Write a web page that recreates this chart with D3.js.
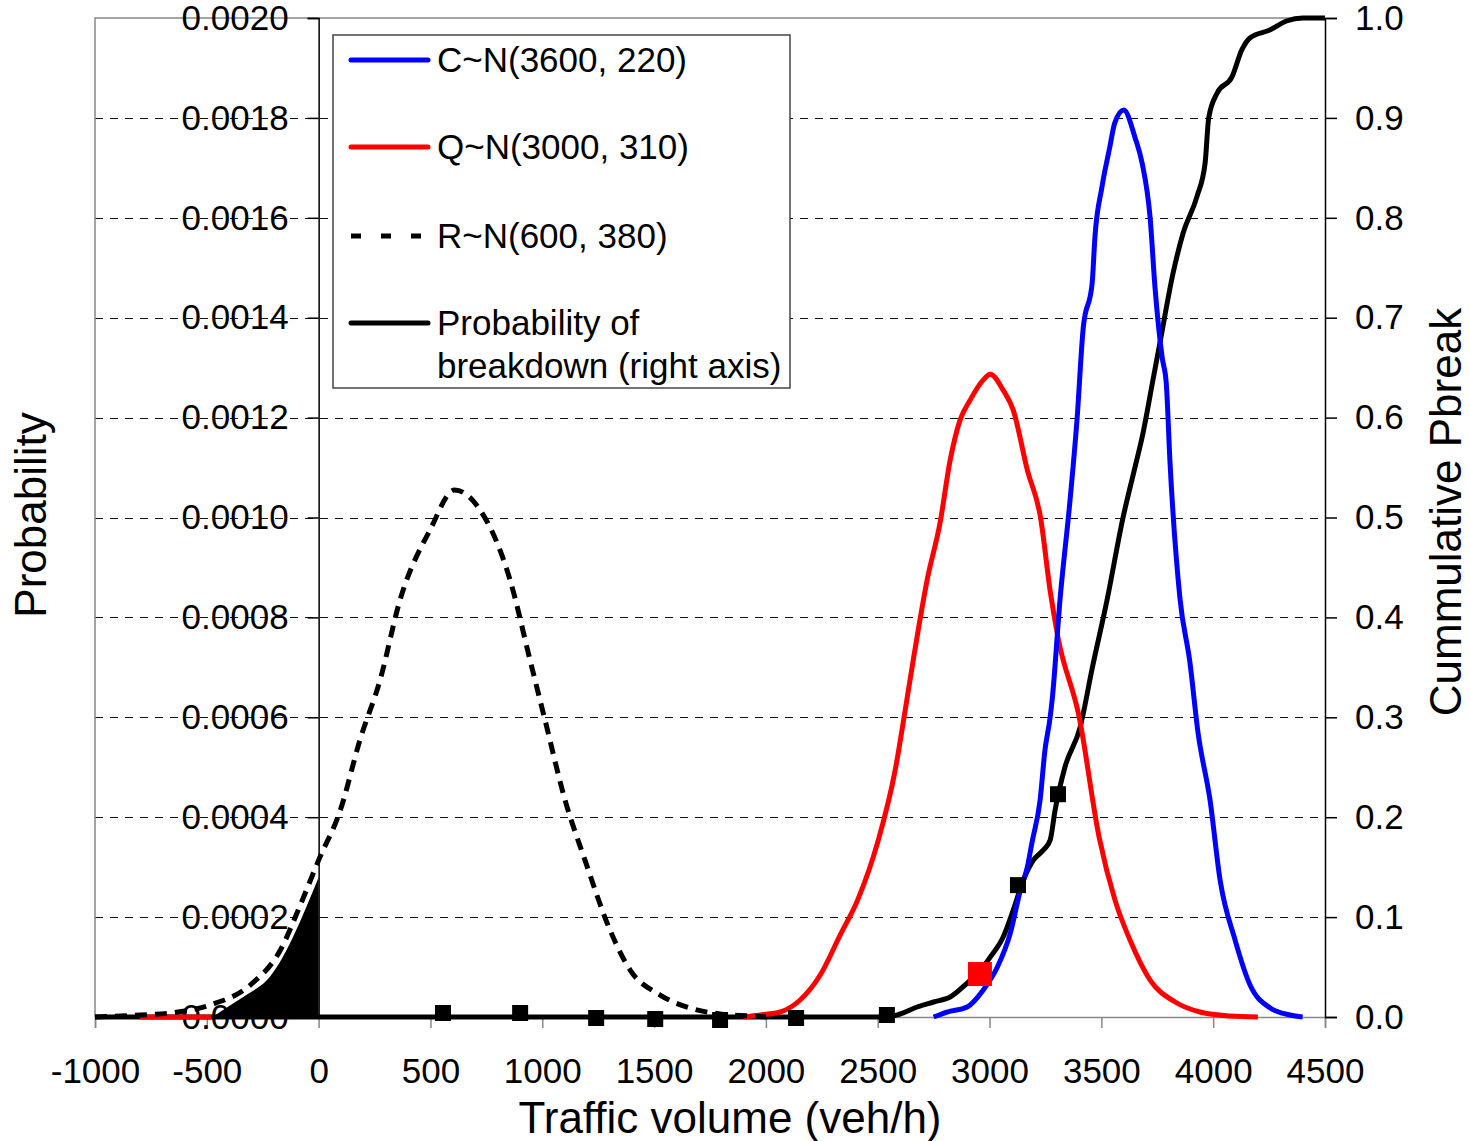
<!DOCTYPE html>
<html>
<head>
<meta charset="utf-8">
<script src="https://cdn.jsdelivr.net/npm/d3@7"></script>
<style>
  html, body { margin: 0; padding: 0; background: #fff; }
  svg { display: block; font-family: "Liberation Sans", Arial, sans-serif; }
</style>
</head>
<body>
<div id="chart"></div>
<script>
// --- data ---
// C ~ N(3600, 220)  (left axis)
const cX = [2750, 2810, 2900, 2972, 3035, 3093, 3138, 3169, 3190, 3226, 3248, 3271, 3280, 3315, 3360, 3391, 3419, 3459, 3471, 3502, 3537, 3560, 3600, 3651, 3682, 3718, 3740, 3772, 3790, 3807, 3851, 3896, 3932, 3986, 4031, 4098, 4165, 4255, 4344, 4400];
const cY = [0, 0.00001, 0.00002, 0.000054, 0.0001, 0.000168, 0.000254, 0.0003, 0.00035, 0.000434, 0.000535, 0.0006, 0.000635, 0.000835, 0.001035, 0.001195, 0.00138, 0.00147, 0.00156, 0.00166, 0.00174, 0.00179, 0.001816, 0.00176, 0.00171, 0.0016, 0.00146, 0.00132, 0.00127, 0.00111, 0.00084, 0.00071, 0.00057, 0.000434, 0.000274, 0.000154, 0.000064, 0.000018, 0.000004, 0];

// Q ~ N(3000, 310)  (left axis)
const qX = [1900, 1974, 2064, 2153, 2243, 2332, 2410, 2500, 2578, 2622, 2659, 2721, 2779, 2824, 2868, 2913, 2971, 3003, 3061, 3106, 3169, 3228, 3272, 3306, 3401, 3490, 3561, 3628, 3718, 3830, 3941, 4075, 4200];
const qY = [0, 0.000004, 0.00001, 0.000034, 0.000084, 0.000164, 0.000234, 0.00035, 0.000494, 0.000612, 0.000715, 0.000875, 0.00099, 0.001115, 0.001195, 0.001235, 0.001275, 0.001287, 0.001255, 0.001215, 0.001095, 0.001, 0.00085, 0.00076, 0.0006, 0.00036, 0.000234, 0.000154, 0.000074, 0.00003, 0.00001, 0.000002, 0];
// short red stretch visible at the far left
const qTailX = [-800, -480];
const qTailY = [0, 0];

// R ~ N(600, 380)  (left axis, dashed)
const rX = [-1000, -798, -664, -485, -306, -171, -82, 0, 97, 185, 275, 364, 498, 608, 722, 856, 945, 1012, 1102, 1191, 1303, 1393, 1527, 1661, 1795, 1930, 2000];
const rY = [0, 0.000004, 0.000008, 0.000024, 0.000064, 0.000134, 0.000224, 0.000314, 0.000414, 0.000555, 0.000675, 0.000835, 0.000975, 0.001055, 0.001015, 0.000875, 0.000715, 0.000595, 0.000434, 0.000314, 0.000174, 0.000094, 0.000044, 0.000018, 0.000006, 0.000002, 0];

// shaded part of R below zero (left axis)
const fillX = [-475, -400, -320, -231, 0];
const fillY = [0, 0.000022, 0.000045, 0.000074, 0.00028];

// probability of breakdown (right axis)
const pX = [-1000, 2540, 2600, 2676, 2750, 2824, 2900, 2960, 3003, 3061, 3106, 3151, 3196, 3240, 3271, 3293, 3337, 3405, 3460, 3525, 3597, 3650, 3682, 3731, 3762, 3821, 3866, 3927, 3964, 3980, 4018, 4084, 4128, 4164, 4253, 4328, 4400, 4500];
const pY = [0, 0, 0.003, 0.01, 0.015, 0.02, 0.034, 0.047, 0.06, 0.08, 0.107, 0.137, 0.157, 0.167, 0.177, 0.207, 0.25, 0.29, 0.35, 0.417, 0.5, 0.55, 0.58, 0.638, 0.675, 0.745, 0.785, 0.821, 0.855, 0.9, 0.925, 0.941, 0.968, 0.98, 0.988, 0.997, 1.0, 1.0];

// observed points (right axis)
const markX = [556, 901, 1241, 1505, 1795, 2135, 2541, 3127, 3306];
const markY = [0.004, 0.004, -0.001, -0.002, -0.003, -0.001, 0.002, 0.132, 0.223];
const redMarkX = [2957];
const redMarkY = [0.043];

// ticks
const xTicks = [-1000, -500, 0, 500, 1000, 1500, 2000, 2500, 3000, 3500, 4000, 4500];
const yLeftTicks = [0, 0.0002, 0.0004, 0.0006, 0.0008, 0.001, 0.0012, 0.0014, 0.0016, 0.0018, 0.002];
const yRightTicks = [0, 0.1, 0.2, 0.3, 0.4, 0.5, 0.6, 0.7, 0.8, 0.9, 1.0];

const legendLabels = [["C~N(3600, 220)"], ["Q~N(3000, 310)"], ["R~N(600, 380)"], ["Probability of", "breakdown (right axis)"]];
const legendColors = ["#0000ff", "#ff0000", "#000000", "#000000"];
const legendDashed = [false, false, true, false];

// --- chart ---
const W = 1470, H = 1141;
const plotL = 95, plotR = 1325, plotT = 18, plotB = 1017;
const LW = 5;

const svg = d3.select("#chart").append("svg")
    .attr("width", W).attr("height", H);

const x = d3.scaleLinear().domain([-1000, 4500]).range([plotL, plotR]);
const yL = d3.scaleLinear().domain([0, 0.002]).range([plotB, plotT]);
const yR = d3.scaleLinear().domain([0, 1]).range([plotB, plotT]);

const zip = (xs, ys) => xs.map((v, i) => [v, ys[i]]);

// gridlines
svg.append("g").selectAll("line")
    .data(yLeftTicks.filter(d => d > 0 && d < 0.002))
    .enter().append("line")
    .attr("x1", plotL).attr("x2", plotR)
    .attr("y1", d => Math.round(yL(d)) + 0.5).attr("y2", d => Math.round(yL(d)) + 0.5)
    .attr("stroke", "#111").attr("stroke-width", 1.2)
    .attr("stroke-dasharray", "8,7");

// plot frame (top / left)
svg.append("path")
    .attr("d", `M${plotL},${plotB}V${plotT}H${plotR}`)
    .attr("fill", "none").attr("stroke", "#888").attr("stroke-width", 1.5);

// x axis
const xAxis = svg.append("g")
    .attr("transform", `translate(0,${plotB})`)
    .call(d3.axisBottom(x).tickValues(xTicks).tickFormat(d => String(d)).tickSize(11).tickPadding(30));
xAxis.select(".domain").attr("stroke", "#888").attr("stroke-width", 1.5);
xAxis.selectAll(".tick line").attr("stroke", "#888").attr("stroke-width", 1.5);
xAxis.selectAll("text").attr("font-size", 35).attr("fill", "#000")
    .attr("font-family", "Liberation Sans, Arial, sans-serif");

// left axis crosses at x = 0
const yAxisL = svg.append("g")
    .attr("transform", `translate(${x(0)},0)`)
    .call(d3.axisLeft(yL).tickValues(yLeftTicks).tickFormat(d3.format(".4f")).tickSize(11).tickPadding(19));
yAxisL.select(".domain").attr("stroke", "#000").attr("stroke-width", 1.5);
yAxisL.selectAll(".tick line").attr("stroke", "#000").attr("stroke-width", 1.5);
yAxisL.selectAll("text").attr("font-size", 35).attr("fill", "#000")
    .attr("font-family", "Liberation Sans, Arial, sans-serif");

// right axis
const yAxisR = svg.append("g")
    .attr("transform", `translate(${plotR},0)`)
    .call(d3.axisRight(yR).tickValues(yRightTicks).tickFormat(d3.format(".1f")).tickSize(12).tickPadding(18));
yAxisR.select(".domain").attr("stroke", "#000").attr("stroke-width", 1.5);
yAxisR.selectAll(".tick line").attr("stroke", "#000").attr("stroke-width", 1.5);
yAxisR.selectAll("text").attr("font-size", 35).attr("fill", "#000")
    .attr("font-family", "Liberation Sans, Arial, sans-serif");

// shaded area
svg.append("path")
    .datum(zip(fillX, fillY))
    .attr("d", d3.area().x(d => x(d[0])).y0(yL(0)).y1(d => yL(d[1])).curve(d3.curveMonotoneX))
    .attr("fill", "#000");

const lineL = d3.line().x(d => x(d[0])).y(d => yL(d[1])).curve(d3.curveMonotoneX);
const lineR = d3.line().x(d => x(d[0])).y(d => yR(d[1])).curve(d3.curveMonotoneX);

// cumulative probability of breakdown
svg.append("path").datum(zip(pX, pY))
    .attr("d", lineR).attr("fill", "none")
    .attr("stroke", "#000").attr("stroke-width", LW).attr("stroke-linejoin", "round");

// Q
svg.append("path").datum(zip(qTailX, qTailY))
    .attr("d", lineL).attr("fill", "none")
    .attr("stroke", "#ff0000").attr("stroke-width", LW);
svg.append("path").datum(zip(qX, qY))
    .attr("d", lineL).attr("fill", "none")
    .attr("stroke", "#ff0000").attr("stroke-width", LW).attr("stroke-linejoin", "round");

// C
svg.append("path").datum(zip(cX, cY))
    .attr("d", lineL).attr("fill", "none")
    .attr("stroke", "#0000ff").attr("stroke-width", LW).attr("stroke-linejoin", "round");

// R (dashed)
svg.append("path").datum(zip(rX, rY))
    .attr("d", lineL).attr("fill", "none")
    .attr("stroke", "#000").attr("stroke-width", LW)
    .attr("stroke-dasharray", "12,8");

// markers
svg.append("g").selectAll("rect")
    .data(zip(markX, markY))
    .enter().append("rect")
    .attr("x", d => x(d[0]) - 8).attr("y", d => yR(d[1]) - 8)
    .attr("width", 16).attr("height", 16)
    .attr("fill", "#000");
svg.append("g").selectAll("rect")
    .data(zip(redMarkX, redMarkY))
    .enter().append("rect")
    .attr("x", d => x(d[0]) - 12).attr("y", d => yR(d[1]) - 12)
    .attr("width", 24).attr("height", 24)
    .attr("fill", "#ff0000");

// axis titles
svg.append("text")
    .attr("x", 730).attr("y", 1133)
    .attr("text-anchor", "middle").attr("font-size", 44)
    .text("Traffic volume (veh/h)");
svg.append("text")
    .attr("transform", "translate(46,515) rotate(-90)")
    .attr("text-anchor", "middle").attr("font-size", 44)
    .text("Probability");
svg.append("text")
    .attr("transform", "translate(1461,512) rotate(-90)")
    .attr("text-anchor", "middle").attr("font-size", 44)
    .text("Cummulative Pbreak");

// legend
const legend = svg.append("g");
legend.append("rect")
    .attr("x", 333).attr("y", 35).attr("width", 457).attr("height", 353)
    .attr("fill", "#fff").attr("stroke", "#444").attr("stroke-width", 1.5);
const rowY = [60, 147, 236, 323];
legendLabels.forEach((lines, i) => {
    legend.append("line")
        .attr("x1", 351).attr("x2", 428)
        .attr("y1", rowY[i]).attr("y2", rowY[i])
        .attr("stroke", legendColors[i]).attr("stroke-width", LW)
        .attr("stroke-linecap", legendDashed[i] ? "butt" : "round")
        .attr("stroke-dasharray", legendDashed[i] ? "10,20" : null);
    lines.forEach((t, j) => {
        legend.append("text")
            .attr("x", 437).attr("y", rowY[i] + j * 43 + 12)
            .attr("font-size", 35)
            .text(t);
    });
});
</script>
</body>
</html>
